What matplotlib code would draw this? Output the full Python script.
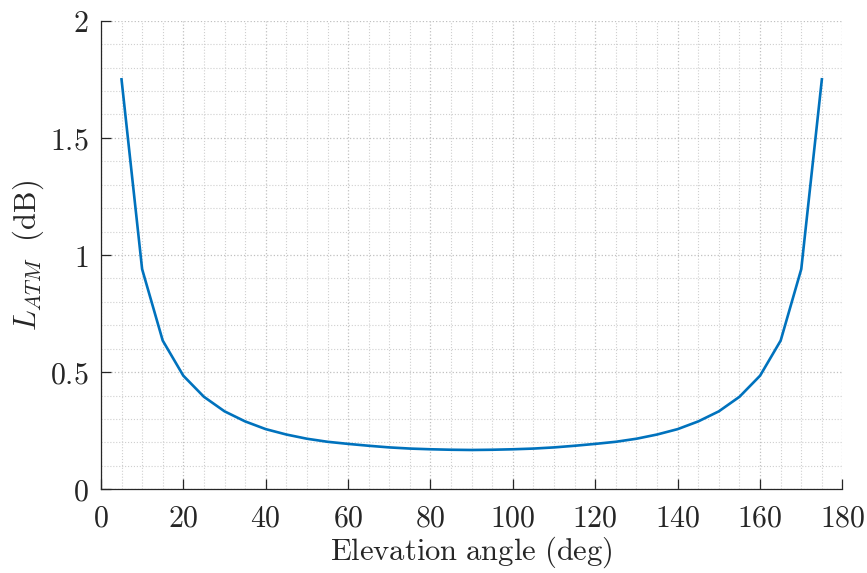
import matplotlib
matplotlib.use("Agg")
import matplotlib.pyplot as plt
from matplotlib.ticker import MultipleLocator, FuncFormatter

# Atmospheric loss versus elevation angle
elevation_deg = [5, 10, 15, 20, 25, 30, 35, 40, 45, 50, 55, 60, 65, 70, 75, 80, 85, 90,
                 95, 100, 105, 110, 115, 120, 125, 130, 135, 140, 145, 150, 155, 160,
                 165, 170, 175]
loss_db = [1.75, 0.94, 0.635, 0.485, 0.395, 0.333, 0.290, 0.257, 0.234, 0.216, 0.203,
           0.194, 0.186, 0.179, 0.174, 0.171, 0.169, 0.168,
           0.169, 0.171, 0.174, 0.179, 0.186, 0.194, 0.203, 0.216, 0.234, 0.257,
           0.290, 0.333, 0.395, 0.485, 0.635, 0.94, 1.75]

x_ticks = [0, 20, 40, 60, 80, 100, 120, 140, 160, 180]
y_ticks = [0, 0.5, 1, 1.5, 2]

plt.rcParams['mathtext.fontset'] = 'cm'
ink = '#262626'

fig = plt.figure(figsize=(8.67, 5.73), dpi=100)
ax = fig.add_axes([0.1164, 0.146, 0.8553, 0.8178])

ax.plot(elevation_deg, loss_db, color='#0072BD', linewidth=1.9, zorder=3)

ax.set_xlim(0, 180)
ax.set_ylim(0, 2)
ax.set_xticks(x_ticks)
ax.set_yticks(y_ticks)
ax.xaxis.set_minor_locator(MultipleLocator(5))
ax.yaxis.set_minor_locator(MultipleLocator(0.1))

fmt = FuncFormatter(lambda v, pos: r'$\mathrm{%s}$' % ('%g' % v))
ax.xaxis.set_major_formatter(fmt)
ax.yaxis.set_major_formatter(fmt)

ax.tick_params(which='major', direction='in', length=7, width=0.9, colors=ink,
               labelsize=21.5)
ax.tick_params(axis='y', pad=9)
ax.tick_params(axis='x', pad=10)
ax.tick_params(which='minor', length=0)

ax.grid(which='major', linestyle=':', color='#c0c0c0', linewidth=0.9)
ax.grid(which='minor', linestyle=':', color='#cfcfcf', linewidth=0.8)
ax.set_axisbelow(True)

for side in ('top', 'right'):
    ax.spines[side].set_visible(False)
for side in ('left', 'bottom'):
    ax.spines[side].set_color(ink)
    ax.spines[side].set_linewidth(0.9)

ax.set_xlabel(r'$\mathrm{Elevation\ angle\ (deg)}$', fontsize=22, color=ink, labelpad=2)
ax.set_ylabel(r'$L_{ATM}\ \ \mathrm{(dB)}$', fontsize=22, color=ink, labelpad=3)

fig.savefig('out.png', dpi=100)
